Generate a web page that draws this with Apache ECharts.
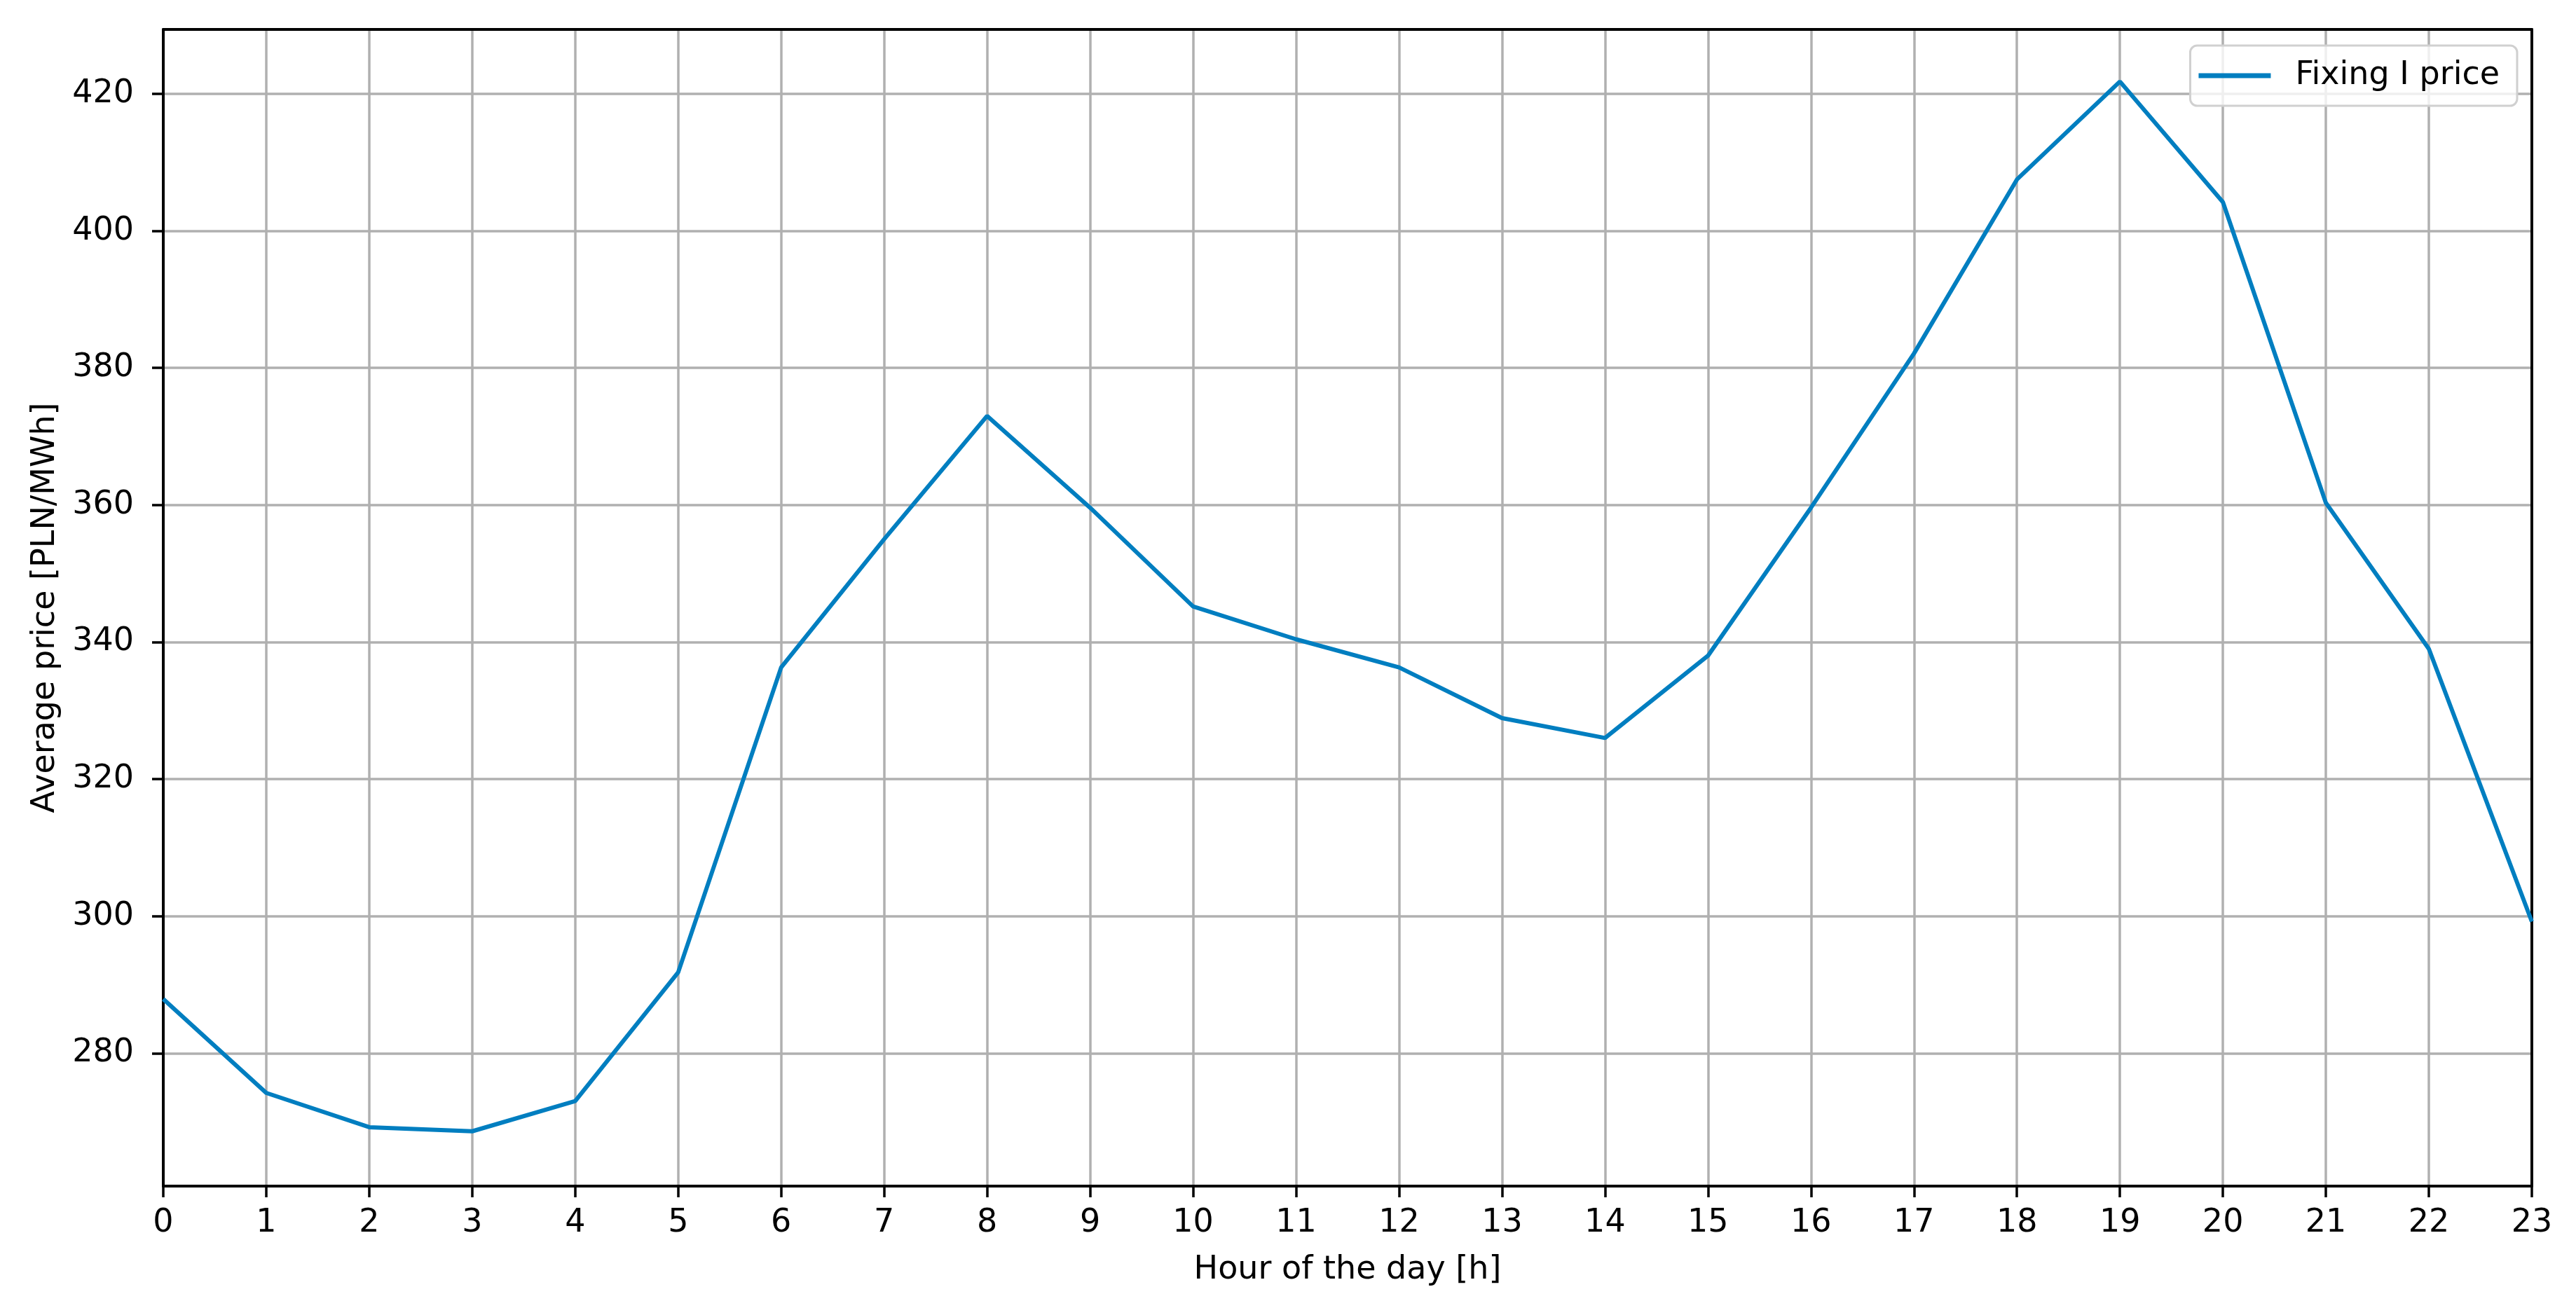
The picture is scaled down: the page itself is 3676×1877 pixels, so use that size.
<!DOCTYPE html>
<html>
<head>
<meta charset="utf-8">
<script src="https://cdn.jsdelivr.net/npm/echarts@6/dist/echarts.min.js"></script>
<style>
  html, body { margin: 0; padding: 0; background: #fff; }
  #chart { width: 3676px; height: 1877px; }
</style>
</head>
<body>
<div id="chart"></div>
<script>
// hours of the day
const hours = ['0','1','2','3','4','5','6','7','8','9','10','11','12','13','14','15','16','17','18','19','20','21','22','23'];
// average Fixing I price per hour, PLN/MWh
const fixingPrice = [287.9, 274.2, 269.2, 268.6, 273.0, 291.8, 336.3, 355.0, 373.0, 359.6, 345.2, 340.4,
                     336.3, 328.9, 326.0, 338.0, 359.6, 382.1, 407.5, 421.8, 404.2, 360.3, 339.0, 299.2];
const seriesName = 'Fixing I price';
const xName = 'Hour of the day [h]';
const yName = 'Average price [PLN/MWh]';
const yMin = 260.6;
const yMax = 429.4;

const font = 'DejaVu Sans';
const lineColor = '#007EC0';

const chart = echarts.init(document.getElementById('chart'), null, { renderer: 'canvas' });

const frameAxis = { show: true, lineStyle: { color: '#000', width: 4 } };

const option = {
  animation: false,
  backgroundColor: '#fff',
  textStyle: { fontFamily: font },
  grid: { left: 233, right: 63, top: 42, bottom: 184, containLabel: false },
  legend: {
    data: [seriesName],
    right: 84,
    top: 65,
    orient: 'horizontal',
    icon: 'rect',
    itemWidth: 103,
    itemHeight: 7,
    padding: [20, 25, 20, 12],
    borderColor: '#d0d0d0',
    borderWidth: 3,
    borderRadius: 10,
    backgroundColor: 'rgba(255,255,255,0.8)',
    textStyle: { fontFamily: font, fontSize: 46, color: '#000', padding: [0, 0, 0, 30] }
  },
  xAxis: [
    {
      type: 'category',
      data: hours,
      boundaryGap: false,
      name: xName,
      nameLocation: 'middle',
      nameGap: 97,
      nameTextStyle: { fontFamily: font, fontSize: 46, color: '#000' },
      axisLine: frameAxis,
      axisTick: { show: true, inside: false, length: 16, interval: 0, lineStyle: { color: '#000', width: 3.5 } },
      axisLabel: { interval: 0, margin: 30, fontFamily: font, fontSize: 46, color: '#000' },
      splitLine: { show: true, interval: 0, lineStyle: { color: '#b0b0b0', width: 3.5 } }
    },
    {
      type: 'category',
      data: hours,
      boundaryGap: false,
      position: 'top',
      axisLine: frameAxis,
      axisTick: { show: false },
      axisLabel: { show: false },
      splitLine: { show: false }
    }
  ],
  yAxis: [
    {
      type: 'value',
      min: yMin,
      max: yMax,
      splitNumber: 8,
      name: yName,
      nameLocation: 'middle',
      nameGap: 145,
      nameRotate: 90,
      nameTextStyle: { fontFamily: font, fontSize: 46, color: '#000' },
      axisLine: frameAxis,
      axisTick: { show: true, inside: false, length: 16, lineStyle: { color: '#000', width: 3.5 } },
      axisLabel: { margin: 42, fontFamily: font, fontSize: 46, color: '#000', showMinLabel: false, showMaxLabel: false },
      splitLine: { show: true, lineStyle: { color: '#b0b0b0', width: 3.5 } }
    },
    {
      type: 'value',
      min: yMin,
      max: yMax,
      position: 'right',
      axisLine: frameAxis,
      axisTick: { show: false },
      axisLabel: { show: false },
      splitLine: { show: false }
    }
  ],
  series: [
    {
      name: seriesName,
      type: 'line',
      xAxisIndex: 0,
      yAxisIndex: 0,
      data: fixingPrice,
      showSymbol: false,
      symbol: 'none',
      lineStyle: { color: lineColor, width: 6 },
      itemStyle: { color: lineColor },
      z: 5
    }
  ]
};

chart.setOption(option);
</script>
</body>
</html>
